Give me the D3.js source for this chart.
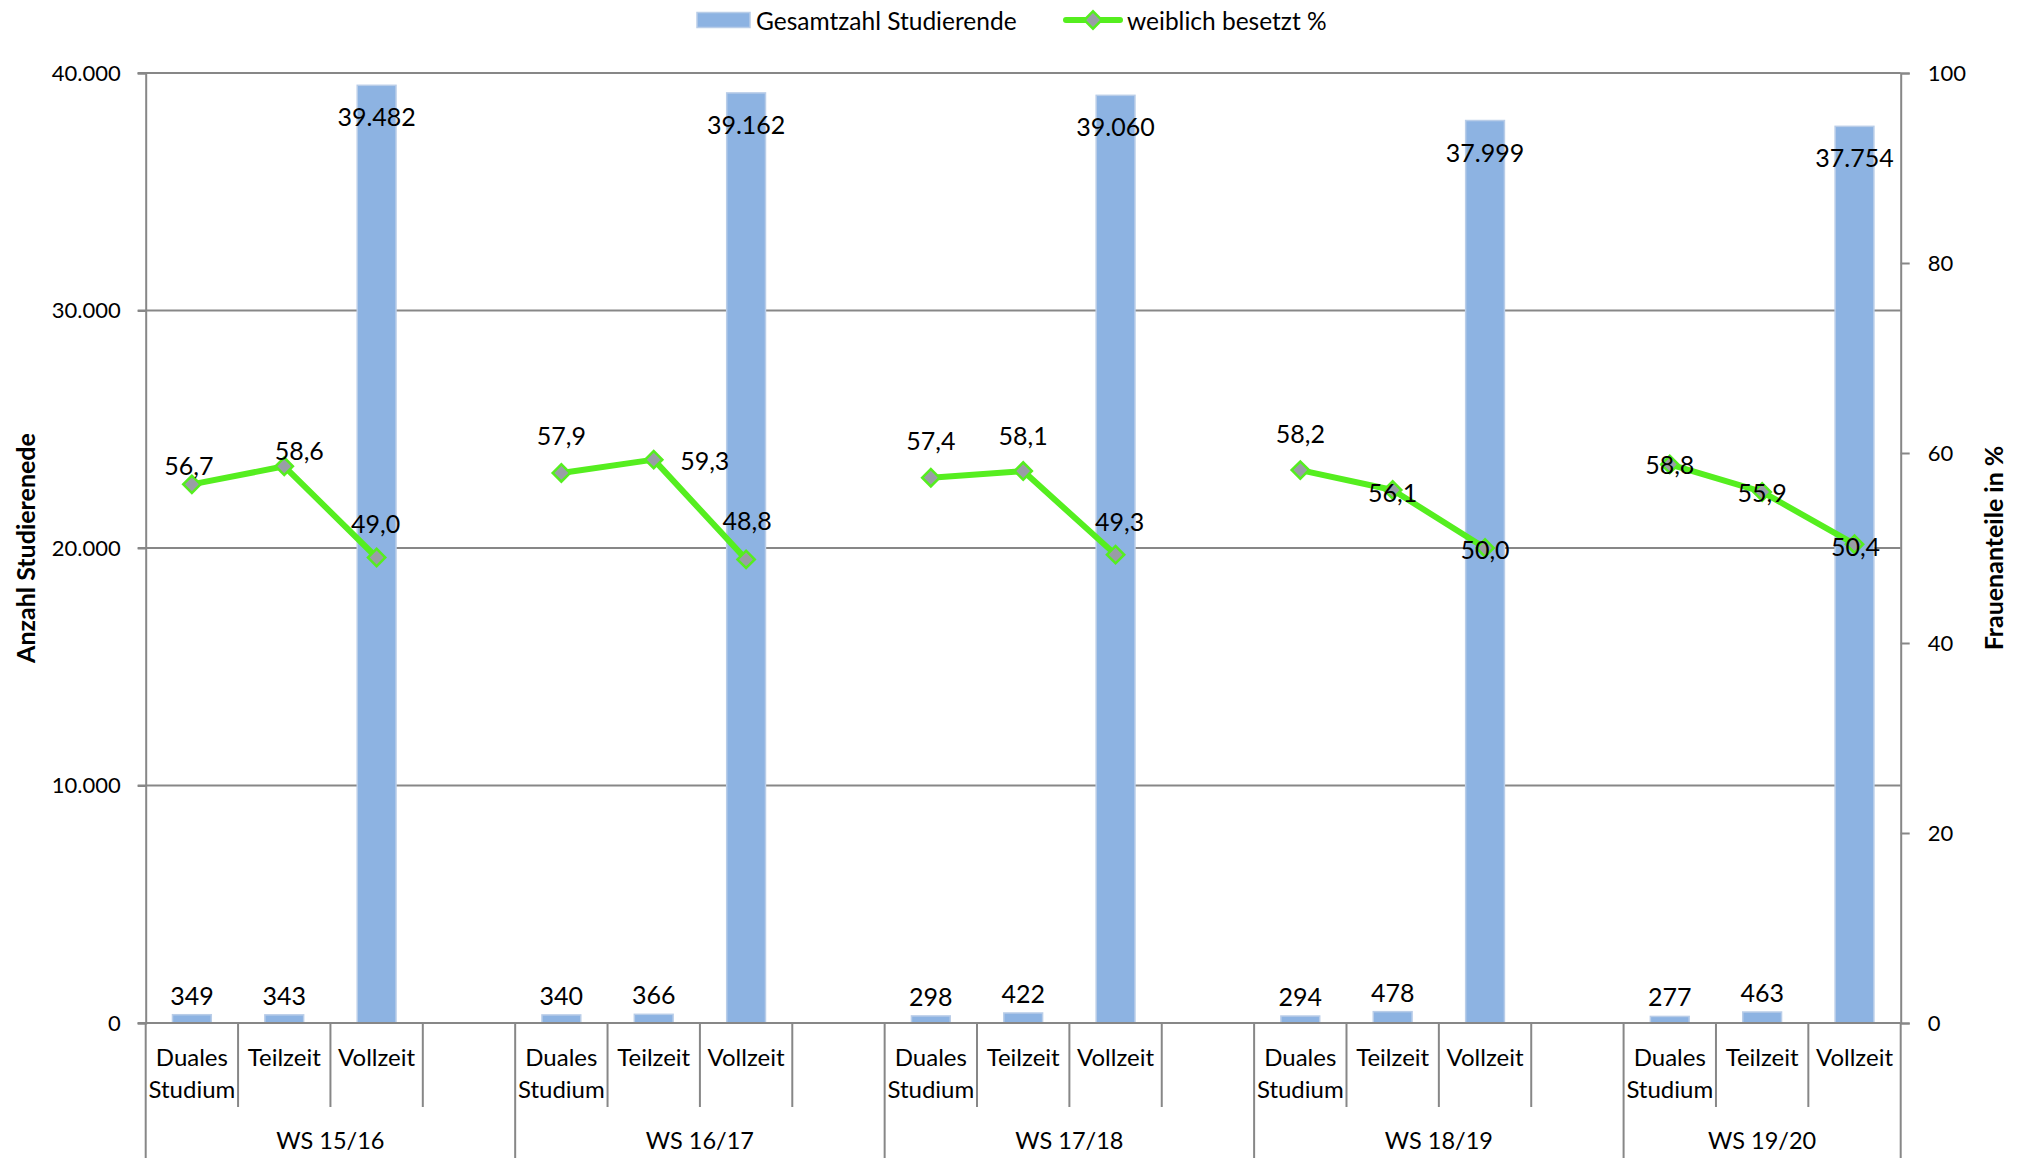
<!DOCTYPE html>
<html>
<head>
<meta charset="utf-8">
<script src="https://cdn.jsdelivr.net/npm/d3@7"></script>
<style>
  html, body { margin: 0; padding: 0; background: #fff; }
  svg { display: block; }
  text { font-family: Lato, "Open Sans", sans-serif; fill: #000; }
</style>
</head>
<body>
<svg id="chart" width="2017" height="1167"></svg>
<script>
// ---------- data ----------
const semesters = ["WS 15/16", "WS 16/17", "WS 17/18", "WS 18/19", "WS 19/20"];
const studyTypes = ["Duales Studium", "Teilzeit", "Vollzeit"];
const studentsDual = [349, 340, 298, 294, 277];
const studentsPart = [343, 366, 422, 478, 463];
const studentsFull = [39482, 39162, 39060, 37999, 37754];
const femaleDual = [56.7, 57.9, 57.4, 58.2, 58.8];
const femalePart = [58.6, 59.3, 58.1, 56.1, 55.9];
const femaleFull = [49.0, 48.8, 49.3, 50.0, 50.4];
const leftTicks = [0, 10000, 20000, 30000, 40000];
const rightTicks = [0, 20, 40, 60, 80, 100];
const seriesNames = ["Gesamtzahl Studierende", "weiblich besetzt %"];
const leftTitle = "Anzahl Studierenede";
const rightTitle = "Frauenanteile in %";

// label placement (layout only): [dx, dy] relative to each point, per semester/type
const lineLabelOffsets = [
  [[-3, -19], [15, -16], [-1, -35]],
  [[0, -38], [51, 0], [1, -39]],
  [[0, -38], [0, -36], [4, -34]],
  [[0, -37], [0, 2], [0, 1]],
  [[0, 0], [0, 0], [1, 2]]
];

// ---------- layout ----------
const svg = d3.select("#chart");
const L = 145.7, R = 1900.7, T = 73, B = 1023;
const de = d3.formatLocale({decimal: ",", thousands: ".", grouping: [3], currency: ["", "€"]});
const fmtInt = de.format(",d");
const fmtPct = de.format(",.1f");

// build category slots (3 types + blank between semesters)
const rows = [];
const slots = [];
semesters.forEach((s, si) => {
  studyTypes.forEach((t, ti) => {
    const key = s + "|" + t;
    slots.push(key);
    rows.push({
      key, sem: s, si, type: t, ti,
      students: [studentsDual, studentsPart, studentsFull][ti][si],
      female: [femaleDual, femalePart, femaleFull][ti][si]
    });
  });
  if (si < semesters.length - 1) slots.push(s + "|blank");
});

const x = d3.scaleBand().domain(slots).range([L, R]).paddingInner(0).paddingOuter(0);
const yL = d3.scaleLinear().domain([0, 40000]).range([B, T]);
const yR = d3.scaleLinear().domain([0, 100]).range([B, T]);
const gridColor = "#878787";
const barFill = "#8DB3E2";
const barStroke = "#B9CDE8";
const lineColor = "#55EE1F";
const markerFill = "#999DA6";

// gridlines
svg.append("g").selectAll("line").data(leftTicks.filter(d => d > 0)).join("line")
  .attr("x1", L - 8).attr("x2", R).attr("y1", d => yL(d)).attr("y2", d => yL(d))
  .attr("stroke", gridColor).attr("stroke-width", 2);

// left axis
const axL = svg.append("g").attr("transform", `translate(${L},0)`)
  .call(d3.axisLeft(yL).tickValues(leftTicks).tickSize(8).tickPadding(17).tickFormat(fmtInt));
axL.select(".domain").attr("stroke", gridColor).attr("stroke-width", 2);
axL.selectAll(".tick line").attr("stroke", gridColor).attr("stroke-width", 2);
axL.selectAll(".tick text").style("font-family", "Lato").style("font-size", "22px").attr("fill", "#000");

// right axis
const axR = svg.append("g").attr("transform", `translate(${R},0)`)
  .call(d3.axisRight(yR).tickValues(rightTicks).tickSize(9).tickPadding(18).tickFormat(d3.format("d")));
axR.select(".domain").attr("stroke", gridColor).attr("stroke-width", 2);
axR.selectAll(".tick line").attr("stroke", gridColor).attr("stroke-width", 2);
axR.selectAll(".tick text").style("font-family", "Lato").style("font-size", "22px").attr("fill", "#000");

// bars
const bw = x.bandwidth() * 0.42;
svg.append("g").selectAll("rect").data(rows).join("rect")
  .attr("x", d => x(d.key) + (x.bandwidth() - bw) / 2)
  .attr("width", bw)
  .attr("y", d => yL(d.students))
  .attr("height", d => B - yL(d.students))
  .attr("fill", barFill).attr("stroke", barStroke).attr("stroke-width", 1.5);

// zero line (x axis)
svg.append("line").attr("x1", L - 8).attr("x2", R).attr("y1", B).attr("y2", B)
  .attr("stroke", gridColor).attr("stroke-width", 2);

// category separators
const boundaries = slots.map(s => x(s)).concat([R]);
const groupStarts = new Set([0]);
slots.forEach((s, i) => { if (s.endsWith("|blank")) groupStarts.add(i + 1); });
groupStarts.add(slots.length);
svg.append("g").selectAll("line").data(boundaries.map((bx, i) => ({bx, i}))).join("line")
  .attr("x1", d => d.bx).attr("x2", d => d.bx)
  .attr("y1", B).attr("y2", d => groupStarts.has(d.i) ? 1158 : 1107)
  .attr("stroke", gridColor).attr("stroke-width", 2);

// category labels
const catG = svg.append("g").style("font-size", "24px");
rows.forEach(d => {
  const cx = x(d.key) + x.bandwidth() / 2;
  const parts = d.type.split(" ");
  parts.forEach((p, pi) => {
    catG.append("text").attr("x", cx).attr("y", 1066 + pi * 32)
      .attr("text-anchor", "middle").text(p);
  });
});

// semester labels
semesters.forEach((s, si) => {
  const start = x(s + "|" + studyTypes[0]);
  const endKey = si < semesters.length - 1 ? s + "|blank" : s + "|" + studyTypes[2];
  const end = x(endKey) + x.bandwidth();
  svg.append("text").attr("x", (start + end) / 2).attr("y", 1149)
    .attr("text-anchor", "middle").style("font-size", "23.5px").text(s);
});

// bar value labels
svg.append("g").selectAll("text").data(rows).join("text")
  .attr("x", d => x(d.key) + x.bandwidth() / 2)
  .attr("y", d => d.students > 10000 ? yL(d.students) + 31 : yL(d.students) - 20)
  .attr("text-anchor", "middle").attr("dominant-baseline", "central")
  .style("font-size", "25px")
  .text(d => fmtInt(d.students));

// line (one segment per semester)
const line = d3.line().x(d => x(d.key) + x.bandwidth() / 2).y(d => yR(d.female));
semesters.forEach((s, si) => {
  const pts = rows.filter(r => r.si === si);
  svg.append("path").datum(pts).attr("d", line)
    .attr("fill", "none").attr("stroke", lineColor).attr("stroke-width", 6)
    .attr("stroke-linejoin", "round");
});

// markers
const dsym = d3.symbol().type(d3.symbolSquare).size(150);
svg.append("g").selectAll("path").data(rows).join("path")
  .attr("d", dsym)
  .attr("transform", d => `translate(${x(d.key) + x.bandwidth() / 2},${yR(d.female)}) rotate(45)`)
  .attr("fill", markerFill).attr("stroke", lineColor).attr("stroke-width", 2.5);

// line labels
svg.append("g").selectAll("text").data(rows).join("text")
  .attr("x", d => x(d.key) + x.bandwidth() / 2 + lineLabelOffsets[d.si][d.ti][0])
  .attr("y", d => yR(d.female) + lineLabelOffsets[d.si][d.ti][1])
  .attr("text-anchor", "middle").attr("dominant-baseline", "central")
  .style("font-size", "25px")
  .text(d => fmtPct(d.female));

// axis titles
svg.append("text").attr("transform", `translate(25,${(T + B) / 2}) rotate(-90)`)
  .attr("text-anchor", "middle").attr("dominant-baseline", "central")
  .style("font-size", "25px").style("font-weight", "bold").text(leftTitle);
svg.append("text").attr("transform", `translate(1993,${(T + B) / 2}) rotate(-90)`)
  .attr("text-anchor", "middle").attr("dominant-baseline", "central")
  .style("font-size", "25px").style("font-weight", "bold").text(rightTitle);

// legend
const lg = svg.append("g");
lg.append("rect").attr("x", 697).attr("y", 12.5).attr("width", 53).attr("height", 15)
  .attr("fill", barFill).attr("stroke", barStroke).attr("stroke-width", 1.5);
lg.append("text").attr("x", 756).attr("y", 20).attr("dominant-baseline", "central")
  .style("font-size", "24.5px").text(seriesNames[0]);
lg.append("line").attr("x1", 1066).attr("x2", 1120).attr("y1", 20).attr("y2", 20)
  .attr("stroke", lineColor).attr("stroke-width", 6).attr("stroke-linecap", "round");
lg.append("path").attr("d", dsym).attr("transform", "translate(1093,20) rotate(45)")
  .attr("fill", markerFill).attr("stroke", lineColor).attr("stroke-width", 2.5);
lg.append("text").attr("x", 1127).attr("y", 20).attr("dominant-baseline", "central")
  .style("font-size", "24.5px").text(seriesNames[1]);
</script>
</body>
</html>
